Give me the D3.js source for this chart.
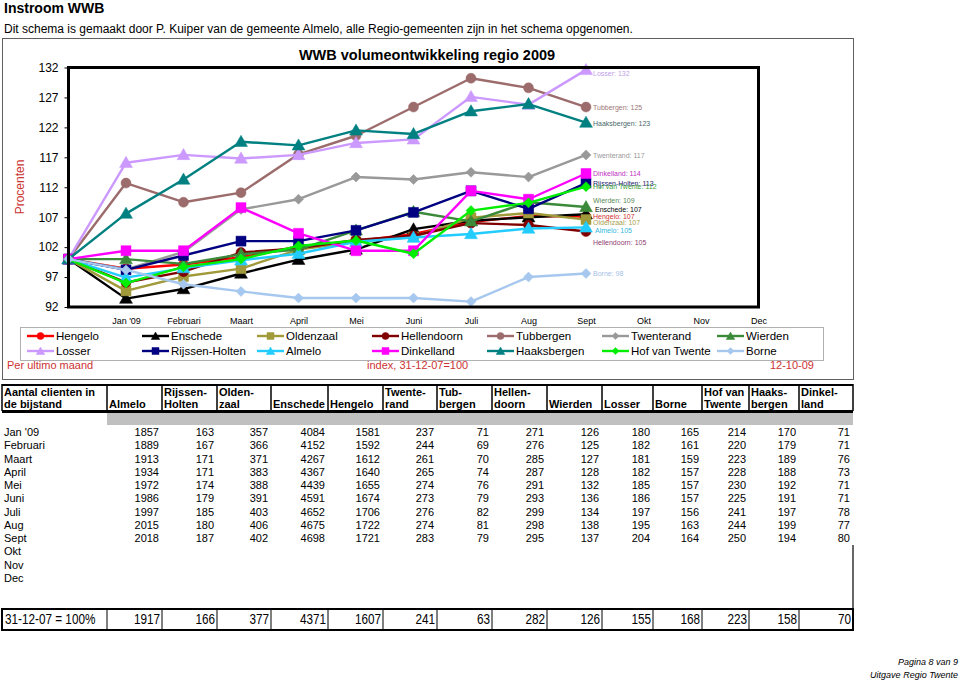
<!DOCTYPE html>
<html><head><meta charset="utf-8">
<script src="https://cdn.jsdelivr.net/npm/d3@7"></script>
<style>
body{margin:0;background:#fff}
svg{display:block}
text{font-family:"Liberation Sans",Arial,Helvetica,sans-serif}
</style>
</head><body>
<svg id="c" width="960" height="680"></svg>
<script>
// ---------- DATA ----------
const categories = ["", "Jan '09", "Februari", "Maart", "April", "Mei", "Juni", "Juli", "Aug", "Sept", "Okt", "Nov", "Dec"];
const yTicks = [92, 97, 102, 107, 112, 117, 122, 127, 132];

const hengelo      = [100, 98.4, 99.1, 100.3, 102.1, 103.0, 104.2, 106.2, 107.2, 107.1];
const enschede     = [100, 93.4, 95.0, 97.6, 99.9, 101.6, 105.0, 106.4, 107.0, 107.5];
const oldenzaal    = [100, 94.7, 97.1, 98.4, 101.6, 102.9, 103.7, 106.9, 107.7, 106.6];
const hellendoorn  = [100, 96.1, 97.9, 101.1, 101.8, 103.2, 103.9, 106.0, 105.7, 104.6];
const tubbergen    = [100, 112.7, 109.5, 111.1, 117.5, 120.6, 125.4, 130.2, 128.6, 125.4];
const twenterand   = [100, 98.3, 101.2, 108.3, 110.0, 113.7, 113.3, 114.5, 113.7, 117.4];
const wierden      = [100, 100.0, 99.2, 100.8, 101.6, 104.8, 107.9, 106.3, 109.5, 108.7];
const losser       = [100, 116.1, 117.4, 116.8, 117.4, 119.4, 120.0, 127.1, 125.8, 131.6];
const rijssenHolten= [100, 98.2, 100.6, 103.0, 103.0, 104.8, 107.8, 111.4, 108.4, 112.7];
const almelo       = [100, 96.9, 98.5, 99.8, 100.9, 102.9, 103.6, 104.2, 105.1, 105.3];
const dinkelland   = [100, 101.4, 101.4, 108.6, 104.3, 101.4, 101.4, 111.4, 110.0, 114.3];
const haaksbergen  = [100, 107.6, 113.3, 119.6, 119.0, 121.5, 120.9, 124.7, 125.9, 122.8];
const hofVanTwente = [100, 96.0, 98.7, 100.0, 102.2, 103.1, 100.9, 108.1, 109.4, 112.1];
const borne        = [100, 98.2, 95.8, 94.6, 93.5, 93.5, 93.5, 92.9, 97.0, 97.6];

const seriesNames = ["Hengelo","Enschede","Oldenzaal","Hellendoorn","Tubbergen","Twenterand","Wierden",
                     "Losser","Rijssen-Holten","Almelo","Dinkelland","Haaksbergen","Hof van Twente","Borne"];
const seriesValues = [hengelo, enschede, oldenzaal, hellendoorn, tubbergen, twenterand, wierden,
                      losser, rijssenHolten, almelo, dinkelland, haaksbergen, hofVanTwente, borne];
const endLabelValues = [107, 107, 107, 105, 125, 117, 109, 132, 113, 105, 114, 123, 112, 98];

const tableMonths = ["Jan '09","Februari","Maart","April","Mei","Juni","Juli","Aug","Sept","Okt","Nov","Dec"];
const tableHeaders = [["Aantal clienten in","de bijstand"],["","Almelo"],["Rijssen-","Holten"],["Olden-","zaal"],
  ["","Enschede"],["","Hengelo"],["Twente-","rand"],["Tub-","bergen"],["Hellen-","doorn"],["","Wierden"],
  ["","Losser"],["","Borne"],["Hof van","Twente"],["Haaks-","bergen"],["Dinkel-","land"]];
const tableRows = [
  [1857,163,357,4084,1581,237,71,271,126,180,165,214,170,71],
  [1889,167,366,4152,1592,244,69,276,125,182,161,220,179,71],
  [1913,171,371,4267,1612,261,70,285,127,181,159,223,189,76],
  [1934,171,383,4367,1640,265,74,287,128,182,157,228,188,73],
  [1972,174,388,4439,1655,274,76,291,132,185,157,230,192,71],
  [1986,179,391,4591,1674,273,79,293,136,186,157,225,191,71],
  [1997,185,403,4652,1706,276,82,299,134,197,156,241,197,78],
  [2015,180,406,4675,1722,274,81,298,138,195,163,244,199,77],
  [2018,187,402,4698,1721,283,79,295,137,204,164,250,194,80]
];
const baseLabel = "31-12-07 = 100%";
const baseRow = [1917,166,377,4371,1607,241,63,282,126,155,168,223,158,70];

// ---------- STYLES / LAYOUT ----------
const styles = {
  "Hengelo":        {color:"#FF0000", marker:"circle",   label:"#D03030", dy:0},
  "Enschede":       {color:"#000000", marker:"triangle", label:"#000000", dy:-5},
  "Oldenzaal":      {color:"#A09A3A", marker:"square",   label:"#A8A050", dy:2.5},
  "Hellendoorn":    {color:"#800000", marker:"circle",   label:"#904070", dy:10.5},
  "Tubbergen":      {color:"#9C6B6B", marker:"circle",   label:"#9C7878", dy:0.5},
  "Twenterand":     {color:"#999999", marker:"diamond",  label:"#999999", dy:0.5},
  "Wierden":        {color:"#3A8A3A", marker:"triangle", label:"#5A8A5A", dy:-6},
  "Losser":         {color:"#CC99FF", marker:"triangle", label:"#C0A0E8", dy:3.5},
  "Rijssen-Holten": {color:"#000080", marker:"square",   label:"#1A1A70", dy:0.5},
  "Almelo":         {color:"#22CCFF", marker:"triangle", label:"#30B8E0", dy:3.5},
  "Dinkelland":     {color:"#FF00FF", marker:"square",   label:"#C030C0", dy:0.5},
  "Haaksbergen":    {color:"#008080", marker:"triangle", label:"#4A6A6A", dy:0.8},
  "Hof van Twente": {color:"#00EE00", marker:"diamond",  label:"#40A040", dy:0},
  "Borne":          {color:"#A6C8EE", marker:"diamond",  label:"#A6C0E8", dy:0}
};

const svg = d3.select("#c");

// header texts
svg.append("text").attr("x",4).attr("y",13).attr("font-size",14).attr("font-weight","bold").text("Instroom WWB");
svg.append("text").attr("x",4).attr("y",33).attr("font-size",12).text("Dit schema is gemaakt door P. Kuiper van de gemeente Almelo, alle Regio-gemeenten zijn in het schema opgenomen.");

// chart object border
svg.append("rect").attr("x",2.5).attr("y",38.5).attr("width",851).attr("height",341)
  .attr("fill","none").attr("stroke","#606060").attr("stroke-width",1);

// chart title
svg.append("text").attr("x",427).attr("y",60).attr("text-anchor","middle").attr("font-size",14.5)
  .attr("font-weight","bold").text("WWB volumeontwikkeling regio 2009");

// scales
const plotL = 68.5, plotR = 758.5, plotT = 67.5, plotB = 307;
const x = d3.scalePoint().domain(categories).range([plotL, plotR]);
const y = d3.scaleLinear().domain([92, 132]).range([plotB, plotT]);

// y axis
const yAxis = svg.append("g").attr("transform",`translate(${plotL},0)`)
  .call(d3.axisLeft(y).tickValues(yTicks).tickSize(4).tickPadding(6).tickFormat(d3.format("d")));
yAxis.select(".domain").remove();
yAxis.selectAll("line").attr("stroke","#000");
yAxis.selectAll("text").attr("font-size",12).attr("fill","#000").style("font-family",'"Liberation Sans",Arial,sans-serif');

// x axis labels
const xAxis = svg.append("g").attr("transform",`translate(0,${plotB})`)
  .call(d3.axisBottom(x).tickSize(0).tickPadding(11));
xAxis.select(".domain").remove();
xAxis.selectAll("text").attr("font-size",9).attr("fill","#000").style("font-family",'"Liberation Sans",Arial,sans-serif');

// Procenten
svg.append("text").attr("transform","translate(24,187) rotate(-90)").attr("text-anchor","middle")
  .attr("font-size",12).attr("fill","#CC3333").text("Procenten");

// marker helper
function markerPath(type, s) {
  if (type === "circle") return d3.symbol(d3.symbolCircle, s*s*0.785)();
  if (type === "square") return d3.symbol(d3.symbolSquare, s*s)();
  if (type === "triangle") return d3.symbol(d3.symbolTriangle, s*s*0.5)();
  return d3.symbol(d3.symbolSquare, s*s*0.5)();
}
function drawMarker(g, type, color, cx, cy, s) {
  const p = g.append("path").attr("d", markerPath(type, s)).attr("fill", color).attr("stroke", color).attr("stroke-width",0.5);
  if (type === "diamond") p.attr("transform",`translate(${cx},${cy}) rotate(45)`);
  else if (type === "triangle") p.attr("transform",`translate(${cx},${cy+1})`);
  else p.attr("transform",`translate(${cx},${cy})`);
}

// lines
const line = d3.line().x((d,i)=>x(categories[i])).y(d=>y(d));
const gSeries = svg.append("g");
seriesNames.forEach((name, k) => {
  const st = styles[name];
  const vals = seriesValues[k];
  const g = gSeries.append("g");
  g.append("path").datum(vals).attr("d", line).attr("fill","none").attr("stroke", st.color)
    .attr("stroke-width",2.4).attr("stroke-linejoin","round");
  vals.forEach((v,i) => drawMarker(g, st.marker, st.color, x(categories[i]), y(v), st.marker==="circle"?10:(st.marker==="triangle"?12:10)));
});

// end labels
const lastIdx = seriesValues[0].length - 1;
seriesNames.forEach((name, k) => {
  const st = styles[name];
  const v = seriesValues[k][lastIdx];
  svg.append("text").attr("x", x(categories[lastIdx]) + 7 + (name==="Enschede"||name==="Almelo"?2:0))
    .attr("y", y(v) + st.dy).attr("dy","0.35em").attr("font-size",7).attr("fill", st.label)
    .text(`${name}: ${endLabelValues[k]}`);
});

// plot frame
svg.append("rect").attr("x",plotL).attr("y",plotT).attr("width",plotR-plotL).attr("height",plotB-plotT)
  .attr("fill","none").attr("stroke","#000").attr("stroke-width",3);

// legend
svg.append("rect").attr("x",20.5).attr("y",327.5).attr("width",803).attr("height",33)
  .attr("fill","none").attr("stroke","#B0B0B0").attr("stroke-width",1);
seriesNames.forEach((name, k) => {
  const st = styles[name];
  const col = k % 7, row = Math.floor(k / 7);
  const lx = 27 + col * 115, ly = 336 + row * 15;
  const g = svg.append("g");
  g.append("line").attr("x1",lx).attr("x2",lx+27).attr("y1",ly).attr("y2",ly).attr("stroke",st.color).attr("stroke-width",2.4);
  drawMarker(g, st.marker, st.color, lx+13.5, ly, st.marker==="triangle"?8:7);
  g.append("text").attr("x",lx+29).attr("y",ly).attr("dy","0.36em").attr("font-size",11.5).attr("fill","#000").text(name);
});

svg.append("text").attr("x",7).attr("y",369).attr("font-size",11).attr("fill","#CC3333").text("Per ultimo maand");
svg.append("text").attr("x",367).attr("y",369).attr("font-size",11).attr("fill","#CC3333").text("index, 31-12-07=100");
svg.append("text").attr("x",814).attr("y",369).attr("text-anchor","end").attr("font-size",11).attr("fill","#CC3333").text("12-10-09");

// ---------- TABLE ----------
const colB = [2,107,162,217,271,328,383,437,492,547,602,653,702,749,799,853];
const tb = svg.append("g");
tb.append("rect").attr("x",colB[1]).attr("y",413).attr("width",colB[15]-colB[1]).attr("height",12).attr("fill","#C0C0C0");
tb.append("line").attr("x1",colB[0]).attr("x2",colB[15]).attr("y1",385).attr("y2",385).attr("stroke","#000").attr("stroke-width",2);
tb.append("line").attr("x1",colB[0]).attr("x2",colB[15]).attr("y1",411.5).attr("y2",411.5).attr("stroke","#000").attr("stroke-width",3);
colB.forEach(b => tb.append("line").attr("x1",b).attr("x2",b).attr("y1",384).attr("y2",411).attr("stroke","#000").attr("stroke-width",1.5));
tableHeaders.forEach((h, i) => {
  tb.append("text").attr("x",colB[i]+2).attr("y",395.5).attr("font-size",11).attr("font-weight","bold").text(h[0]);
  tb.append("text").attr("x",colB[i]+2).attr("y",408).attr("font-size",11).attr("font-weight","bold").text(h[1]);
});
tableMonths.forEach((m, r) => {
  const yy = 436 + r * 13.25;
  tb.append("text").attr("x",4).attr("y",yy).attr("font-size",11).text(m);
  if (r < tableRows.length) {
    tableRows[r].forEach((v, c) => {
      tb.append("text").attr("x",colB[c+2]-3).attr("y",yy).attr("text-anchor","end").attr("font-size",11).text(v);
    });
  }
});
tb.append("line").attr("x1",853).attr("x2",853).attr("y1",545).attr("y2",609).attr("stroke","#000").attr("stroke-width",1.2);
tb.append("rect").attr("x",colB[0]).attr("y",609).attr("width",colB[15]-colB[0]).attr("height",21)
  .attr("fill","none").attr("stroke","#000").attr("stroke-width",2);
colB.slice(1,15).forEach(b => tb.append("line").attr("x1",b).attr("x2",b).attr("y1",609).attr("y2",630).attr("stroke","#000").attr("stroke-width",1));
tb.append("text").attr("transform","translate(5,624) scale(0.84,1)").attr("font-size",14).text(baseLabel);
baseRow.forEach((v, c) => {
  tb.append("text").attr("transform",`translate(${colB[c+2]-2},624) scale(0.84,1)`).attr("text-anchor","end")
    .attr("font-size",14).text(v);
});

// footer
svg.append("text").attr("x",958).attr("y",665).attr("text-anchor","end").attr("font-size",9).attr("font-style","italic").text("Pagina 8 van 9");
svg.append("text").attr("x",958).attr("y",678).attr("text-anchor","end").attr("font-size",9).attr("font-style","italic").text("Uitgave Regio Twente");
</script>
</body></html>
